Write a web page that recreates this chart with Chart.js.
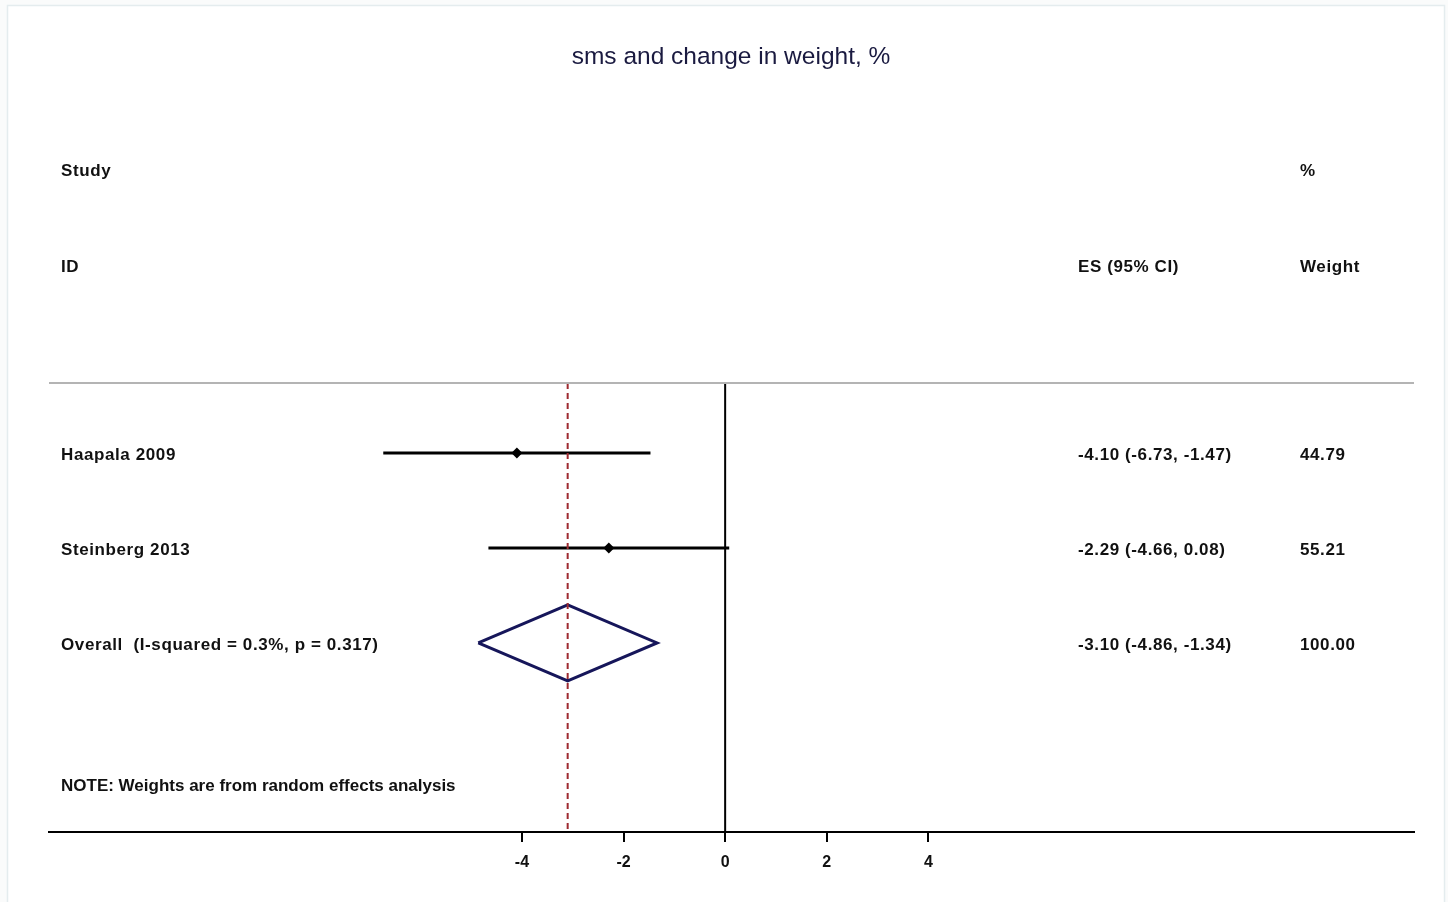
<!DOCTYPE html>
<html>
<head>
<meta charset="utf-8">
<script src="https://cdn.jsdelivr.net/npm/chart.js@4.4.1/dist/chart.umd.min.js"></script>
<style>
  html, body { margin: 0; padding: 0; background: #ffffff; }
  #wrap { width: 1448px; height: 902px; position: relative; }
</style>
</head>
<body>
<div id="wrap"><canvas id="c" width="1448" height="902"></canvas></div>
<script>
// ---------- data ----------
const title = 'sms and change in weight, %';
const studies = ['Haapala 2009', 'Steinberg 2013'];
const estimates = [-4.10, -2.29];
const lowerCI = [-6.73, -4.66];
const upperCI = [-1.47, 0.08];
const weights = ['44.79', '55.21'];
const overallLabel = 'Overall  (I-squared = 0.3%, p = 0.317)';
const overallES = -3.10;
const overallLower = -4.86;
const overallUpper = -1.34;
const overallWeight = '100.00';
const xTicks = [-4, -2, 0, 2, 4];
const noteText = 'NOTE: Weights are from random effects analysis';

// row positions (in row units, y axis reversed)
const rows = [1, 2];
const overallRow = 3;
const noteRow = 4.49;
const Y_MIN = 0.263, Y_MAX = 4.99;
const X_MIN = -13.31, X_MAX = 13.56;

const fmt = v => v.toFixed(2);
const esText = (e, l, u) => `${fmt(e)} (${fmt(l)}, ${fmt(u)})`;

const datasets = [];
// zero line
datasets.push({ type: 'line', data: [{x: 0, y: Y_MIN}, {x: 0, y: Y_MAX}], borderColor: '#000', borderWidth: 2, pointRadius: 0 });
// overall dashed line
datasets.push({ type: 'line', data: [{x: overallES, y: Y_MIN}, {x: overallES, y: Y_MAX}], borderColor: '#9e2a30', borderWidth: 2, borderDash: [6, 4], pointRadius: 0 });
// CI lines
studies.forEach((s, i) => {
  datasets.push({ type: 'line', data: [{x: lowerCI[i], y: rows[i]}, {x: upperCI[i], y: rows[i]}], borderColor: '#000', borderWidth: 3, pointRadius: 0 });
});
// point estimates
datasets.push({ type: 'scatter', data: studies.map((s, i) => ({x: estimates[i], y: rows[i]})), pointStyle: 'rectRot', pointRadius: 5.5, backgroundColor: '#000', borderColor: '#000', borderWidth: 0 });
// diamond
const dh = 0.4;
datasets.push({ type: 'line', data: [
  {x: overallLower, y: overallRow}, {x: overallES, y: overallRow - dh},
  {x: overallUpper, y: overallRow}, {x: overallES, y: overallRow + dh},
  {x: overallLower, y: overallRow}
], borderColor: '#16165a', borderWidth: 3, pointRadius: 0, fill: false, tension: 0, borderJoinStyle: 'miter' });

const textPlugin = {
  id: 'texts',
  beforeDraw(chart) {
    const ctx = chart.ctx;
    ctx.save();
    ctx.fillStyle = '#fafbfb';
    ctx.fillRect(0, 0, chart.width, chart.height);
    ctx.fillStyle = '#ffffff';
    ctx.fillRect(7.5, 5.5, 1437, 900);
    ctx.strokeStyle = '#e4ecee';
    ctx.lineWidth = 1.5;
    ctx.strokeRect(7.5, 5.5, 1437, 900);
    ctx.restore();
  },
  afterDraw(chart) {
    const ctx = chart.ctx;
    const ys = chart.scales.y;
    const a = chart.chartArea;
    ctx.save();
    // separator line at top of plot area
    ctx.strokeStyle = '#b4b4b4';
    ctx.lineWidth = 2;
    ctx.beginPath(); ctx.moveTo(a.left, a.top); ctx.lineTo(a.right, a.top); ctx.stroke();

    ctx.textBaseline = 'middle';
    ctx.textAlign = 'center';
    ctx.fillStyle = '#1a1a40';
    ctx.font = '24.5px "Liberation Sans", Arial, sans-serif';
    ctx.fillText(title, 731, 57);

    ctx.fillStyle = '#111';
    ctx.textAlign = 'left';
    ctx.font = 'bold 17px "Liberation Sans", Arial, sans-serif';
    ctx.letterSpacing = '0.6px';
    const dy = 2;
    const colStudy = 61, colES = 1078, colW = 1300;
    const hdr1 = ys.getPixelForValue(-1.99) + dy, hdr2 = ys.getPixelForValue(-0.98) + dy;
    ctx.fillText('Study', colStudy, hdr1);
    ctx.fillText('%', colW, hdr1);
    ctx.fillText('ID', colStudy, hdr2);
    ctx.fillText('ES (95% CI)', colES, hdr2);
    ctx.fillText('Weight', colW, hdr2);

    studies.forEach((s, i) => {
      const y = ys.getPixelForValue(rows[i]) + dy;
      ctx.fillText(s, colStudy, y);
      ctx.fillText(esText(estimates[i], lowerCI[i], upperCI[i]), colES, y);
      ctx.fillText(weights[i], colW, y);
    });
    const yo = ys.getPixelForValue(overallRow) + dy;
    ctx.fillText(overallLabel, colStudy, yo);
    ctx.fillText(esText(overallES, overallLower, overallUpper), colES, yo);
    ctx.fillText(overallWeight, colW, yo);
    ctx.letterSpacing = '0px';
    ctx.fillText(noteText, colStudy, ys.getPixelForValue(noteRow) + dy);
    ctx.restore();
  }
};

new Chart(document.getElementById('c'), {
  data: { datasets },
  options: {
    responsive: false,
    animation: false,
    events: [],
    layout: { padding: { left: 49, right: 34, top: 383, bottom: 0 } },
    plugins: { legend: { display: false }, tooltip: { enabled: false } },
    scales: {
      x: {
        type: 'linear', min: X_MIN, max: X_MAX,
        afterBuildTicks: s => { s.ticks = xTicks.map(v => ({ value: v })); },
        afterFit: s => { s.height = 70; },
        border: { display: true, color: '#000', width: 2 },
        grid: { drawOnChartArea: false, drawTicks: true, tickLength: 10, color: '#000', lineWidth: 2 },
        ticks: { color: '#111', padding: 11, font: { family: '"Liberation Sans", Arial, sans-serif', size: 16, weight: 'bold' } }
      },
      y: { type: 'linear', min: Y_MIN, max: Y_MAX, reverse: true, display: false }
    }
  },
  plugins: [textPlugin]
});
</script>
</body>
</html>
